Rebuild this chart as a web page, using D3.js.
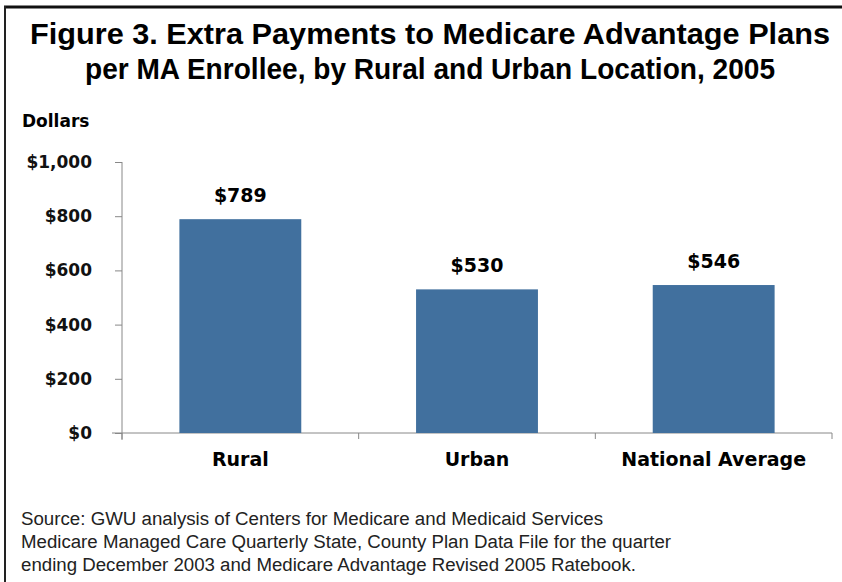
<!DOCTYPE html>
<html>
<head>
<meta charset="utf-8">
<script src="https://cdn.jsdelivr.net/npm/d3@7"></script>
<style>
  body { margin: 0; background: #fff; }
  svg { display: block; }
</style>
</head>
<body>
<div id="chart"></div>
<script>
let categories = ["Rural", "Urban", "National Average"];
let payments = [789, 530, 546];
let yTicks = [0, 200, 400, 600, 800, 1000];
let titleLines = [
    "Figure 3. Extra Payments to Medicare Advantage Plans",
    "per MA Enrollee, by Rural and Urban Location, 2005"
];
let sourceLines = [
    "Source: GWU analysis of Centers for Medicare and Medicaid Services",
    "Medicare Managed Care Quarterly State, County Plan Data File for the quarter",
    "ending December 2003 and Medicare Advantage Revised 2005 Ratebook."
];

let w = 842, h = 582;
let plotLeft = 122, plotRight = 832, plotTop = 162, plotBottom = 433;
let boldFont = "'DejaVu Sans', Verdana, sans-serif";

const svg = d3.select("#chart")
    .append("svg")
    .attr("width", w)
    .attr("height", h);

// frame lines (top and left only)
svg.append("line")
    .attr("x1", 4).attr("x2", w).attr("y1", 7).attr("y2", 7)
    .attr("stroke", "#111").attr("stroke-width", 3);
svg.append("line")
    .attr("x1", 5).attr("x2", 5).attr("y1", 6).attr("y2", h)
    .attr("stroke", "#222").attr("stroke-width", 2);

// title
svg.selectAll(".title")
    .data(titleLines)
    .enter()
    .append("text")
    .attr("class", "title")
    .attr("x", 430)
    .attr("y", (d, i) => 44 + i * 35)
    .attr("text-anchor", "middle")
    .attr("textLength", (d, i) => i == 0 ? 800 : 690)
    .attr("lengthAdjust", "spacingAndGlyphs")
    .style("font-family", "'Liberation Sans', Arial, sans-serif")
    .style("font-weight", "bold")
    .style("font-size", "29px")
    .text(d => d);

svg.append("text")
    .attr("x", 22)
    .attr("y", 127)
    .style("font-family", boldFont)
    .style("font-weight", "bold")
    .style("font-size", "17px")
    .text("Dollars");

let xScale = d3.scaleBand()
    .domain(categories)
    .range([plotLeft, plotRight])
    .paddingInner(0.485)
    .paddingOuter(0.2425);

let yScale = d3.scaleLinear()
    .domain([0, 1000])
    .range([plotBottom, plotTop]);

// y axis
const yAxis = d3.axisLeft(yScale)
    .tickValues(yTicks)
    .tickSize(7)
    .tickPadding(23)
    .tickFormat(d => "$" + d3.format(",")(d));

const yg = svg.append("g")
    .attr("transform", "translate(" + plotLeft + ",0)")
    .call(yAxis);
yg.select(".domain").attr("stroke", "#888").attr("d", "M0," + plotTop + "V" + (plotBottom + 7));
yg.selectAll(".tick line").attr("stroke", "#888");
yg.selectAll(".tick text")
    .style("font-family", boldFont)
    .style("font-weight", "bold")
    .style("font-size", "17px")
    .attr("fill", "#111");

// x axis line with category boundary ticks
let bounds = [0, 1, 2, 3].map(i => plotLeft + i * (plotRight - plotLeft) / 3);
svg.append("line")
    .attr("x1", 112).attr("x2", plotRight)
    .attr("y1", plotBottom).attr("y2", plotBottom)
    .attr("stroke", "#888");
svg.selectAll(".xtick")
    .data(bounds)
    .enter()
    .append("line")
    .attr("class", "xtick")
    .attr("x1", d => d).attr("x2", d => d)
    .attr("y1", plotBottom).attr("y2", plotBottom + 6)
    .attr("stroke", "#888");

// bars
svg.selectAll("rect.bar")
    .data(payments)
    .enter()
    .append("rect")
    .attr("class", "bar")
    .attr("x", (d, i) => xScale(categories[i]))
    .attr("y", d => yScale(d))
    .attr("width", xScale.bandwidth())
    .attr("height", d => plotBottom - yScale(d))
    .attr("fill", "#41709e");

// value labels
svg.selectAll(".val")
    .data(payments)
    .enter()
    .append("text")
    .attr("class", "val")
    .attr("x", (d, i) => xScale(categories[i]) + xScale.bandwidth() / 2)
    .attr("y", d => yScale(d) - 17)
    .attr("text-anchor", "middle")
    .style("font-family", boldFont)
    .style("font-weight", "bold")
    .style("font-size", "19px")
    .text(d => "$" + d);

// category labels
svg.selectAll(".cat")
    .data(categories)
    .enter()
    .append("text")
    .attr("class", "cat")
    .attr("x", d => xScale(d) + xScale.bandwidth() / 2)
    .attr("y", 466)
    .attr("text-anchor", "middle")
    .style("font-family", boldFont)
    .style("font-weight", "bold")
    .style("font-size", "19px")
    .text(d => d);

// source
svg.selectAll(".src")
    .data(sourceLines)
    .enter()
    .append("text")
    .attr("class", "src")
    .attr("x", 21)
    .attr("y", (d, i) => 525 + i * 23)
    .attr("textLength", (d, i) => [582, 650, 615][i])
    .attr("lengthAdjust", "spacingAndGlyphs")
    .style("font-family", "'Liberation Sans', Arial, sans-serif")
    .style("font-size", "18px")
    .attr("fill", "#222")
    .text(d => d);
</script>
</body>
</html>
